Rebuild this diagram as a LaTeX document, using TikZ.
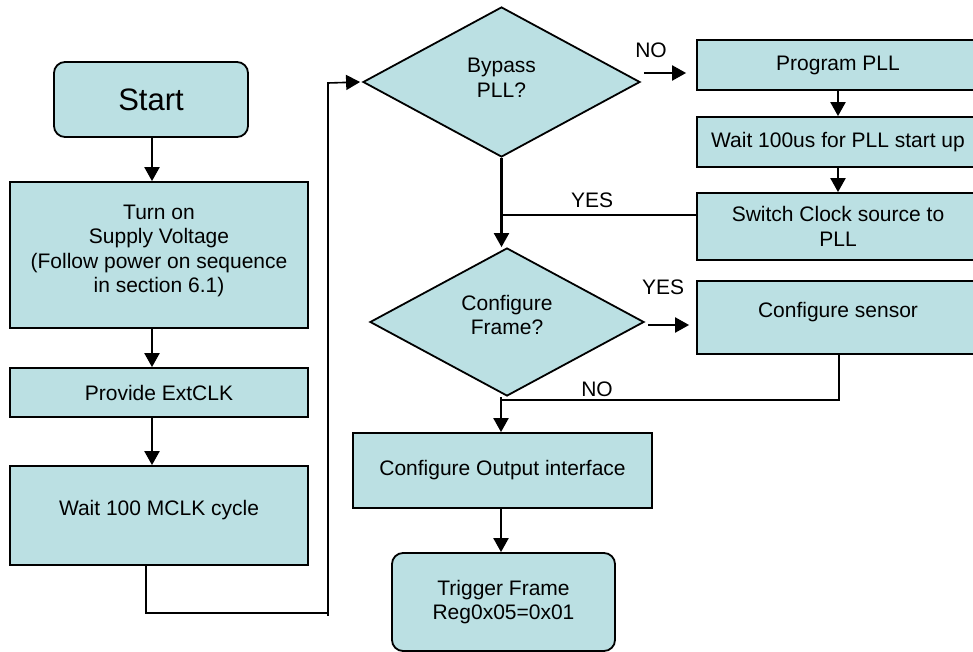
\documentclass[tikz,border=0pt]{standalone}
\usepackage{fontspec}
\setmainfont{Liberation Sans}
\usetikzlibrary{shapes.geometric,arrows.meta}
\definecolor{boxfill}{RGB}{187,224,227}
\tikzset{
  base/.style={draw=black, line width=1.8pt, fill=boxfill, inner sep=0pt},
  procbox/.style={base, rectangle},
  termbox/.style={base, rectangle, rounded corners=11pt},
  decision/.style={base, diamond},
  txt/.style={inner sep=0pt, align=center, font=\fontsize{21}{24.5}\selectfont},
  conn/.style={line width=2.2pt},
  tip/.style={-{Triangle[length=14pt,width=15pt]}},
  arr/.style={conn, tip},
  lbl/.style={font=\fontsize{21}{24.5}\selectfont, inner sep=0pt}
}
\begin{document}
\begin{tikzpicture}[x=1pt,y=-1pt]
\clip (0,0) rectangle (973,652);
\fill[white] (0,0) rectangle (973,652);

% left column
\node[termbox, minimum width=194pt, minimum height=75pt] (start) at (151,99.5) {};
\node[txt, font=\fontsize{31}{36}\selectfont] (start-t) at (start.center) {Start};
\node[procbox, minimum width=298pt, minimum height=146pt] (turnon) at (159,255) {};
\node[txt] (turnon-t) at ([yshift=4pt]turnon.center)
  {Turn on\\Supply Voltage\\(Follow power on sequence\\in section 6.1)};
\node[procbox, minimum width=298pt, minimum height=49pt] (extclk) at (159,392.5) {};
\node[txt] (extclk-t) at (extclk.center) {Provide ExtCLK};
\node[procbox, minimum width=298pt, minimum height=99pt] (mclk) at (159,515.5) {};
\node[txt] (mclk-t) at ([yshift=5pt]mclk.center) {Wait 100 MCLK cycle};

% middle column
\node[decision, minimum width=277pt, minimum height=150pt, aspect=1.85] (bypass) at (501.5,82) {};
\node[txt] (bypass-t) at ([yshift=4pt]bypass.center) {Bypass\\PLL?};
\node[decision, minimum width=274pt, minimum height=148pt, aspect=1.85] (cframe) at (507,322) {};
\node[txt] (cframe-t) at ([yshift=7pt]cframe.center) {Configure\\Frame?};
\node[procbox, minimum width=299pt, minimum height=75pt] (cout) at (502.5,470.5) {};
\node[txt] (cout-t) at (cout.center) {Configure Output interface};
\node[termbox, minimum width=223pt, minimum height=98pt] (trigger) at (503.5,602) {};
\node[txt] (trigger-t) at (trigger.center) {Trigger Frame\\Reg0x05=0x01};

% right column
\node[procbox, minimum width=282pt, minimum height=50pt] (prog) at (838,65) {};
\node[txt] (prog-t) at (prog.center) {Program PLL};
\node[procbox, minimum width=282pt, minimum height=50pt] (pllwait) at (838,142) {};
\node[txt] (pllwait-t) at (pllwait.center) {Wait 100us for PLL start up};
\node[procbox, minimum width=282pt, minimum height=67pt] (switch) at (838,226.5) {};
\node[txt] (switch-t) at (switch.center) {Switch Clock source to\\PLL};
\node[procbox, minimum width=282pt, minimum height=73pt] (sensor) at (838,317.5) {};
\node[txt] (sensor-t) at ([yshift=5pt]sensor.center) {Configure sensor};

% routing points
\coordinate (loopA) at (146,613);
\coordinate (loopB) at (328,613);
\coordinate (loopC) at (328,83);
\coordinate (nojoin) at (501,400);
\coordinate (yesjoin) at (501,215);

% left column flow
\draw[arr] (start.south -| 152,0) -- (turnon.north -| 152,0);
\draw[arr] (turnon.south -| 152,0) -- (extclk.north -| 152,0);
\draw[arr] (extclk.south -| 152,0) -- (mclk.north -| 152,0);
\draw[line width=1.6pt] (mclk.south -| loopA) -- (loopA) -- (loopB) -- ++(0,3);
\draw[line width=1.6pt, tip] (loopB) -- (loopC) -- ([xshift=-2pt]bypass.west);

% PLL branch
\draw[arr] ([xshift=3pt,yshift=9pt]bypass.east) -- ([xshift=-10pt]prog.west |- 0,73);
\node[lbl] (nolabel) at (651,50) {NO};
\draw[arr] (prog.south) -- (pllwait.north);
\draw[arr] (pllwait.south) -- (switch.north);
\draw[conn] (switch.west |- yesjoin) -- (yesjoin);
\node[lbl] (yeslabel) at (592,200) {YES};
\draw[arr] (bypass.south) -- (bypass.south |- cframe.north);

% frame branch
\draw[arr] ([xshift=3pt,yshift=-3pt]cframe.east) -- ([xshift=-7pt]sensor.west |- 0,325);
\node[lbl] (yes2label) at (663,287) {YES};
\draw[line width=1.6pt] (sensor.south -| 839,0) |- (nojoin);
\node[lbl] (no2label) at (597,389) {NO};
\draw[conn] (nojoin |- cframe.south) -- (nojoin);
\draw[arr] (nojoin) -- (nojoin |- cout.north);
\draw[arr] (cout.south -| nojoin) -- (trigger.north -| nojoin);
\end{tikzpicture}
\end{document}
